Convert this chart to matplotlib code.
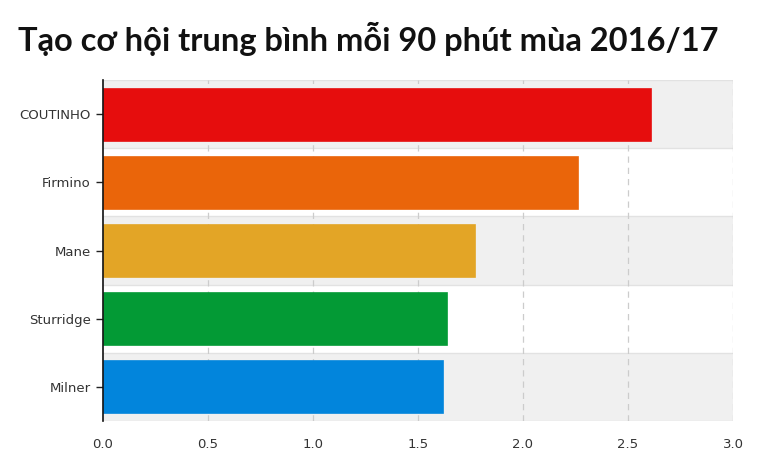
import matplotlib
matplotlib.use("Agg")
import matplotlib.pyplot as plt

title = "Tạo cơ hội trung bình mỗi 90 phút mùa 2016/17"
players = ["COUTINHO", "Firmino", "Mane", "Sturridge", "Milner"]
values = [2.61, 2.26, 1.77, 1.64, 1.62]
colors = ["#e60d0d", "#ea650a", "#e3a526", "#039a35", "#0285dc"]
xticks = [0.0, 0.5, 1.0, 1.5, 2.0, 2.5, 3.0]

W, H = 758, 462
fig = plt.figure(figsize=(W / 100, H / 100), dpi=100)
ax = fig.add_axes([103 / W, 1 - 421 / H, (733 - 103) / W, (421 - 80) / H])

ypos = list(range(len(players)))
for i in ypos:
    if i % 2 == 0:
        ax.axhspan(i - 0.5, i + 0.5, color="#f0f0f0", zorder=0, lw=0)
    ax.axhline(i + 0.5, color="#e2e2e2", lw=1, zorder=0.5)
ax.axhline(-0.5, color="#e2e2e2", lw=1, zorder=0.5)

for x in xticks[1:]:
    ax.axvline(x, color="#cccccc", lw=0.9, ls=(0, (5, 4)), zorder=1)

ax.barh(ypos, values, height=0.78, color=colors, zorder=2,
        edgecolor=[c + "cc" for c in colors], linewidth=0.6)

ax.set_xlim(0, 3.0)
ax.set_ylim(len(players) - 0.5, -0.5)
ax.set_yticks(ypos)
ax.set_yticklabels(players, fontsize=9.5, color="#333333", family="DejaVu Sans")
ax.set_xticks(xticks)
ax.set_xticklabels([f"{x:.1f}" for x in xticks], fontsize=9.5, color="#333333",
                   family="DejaVu Sans")
ax.tick_params(axis="y", length=5, width=1, color="#222222", pad=4)
ax.tick_params(axis="x", length=0, pad=12)
for s in ["top", "right", "bottom"]:
    ax.spines[s].set_visible(False)
ax.spines["left"].set_color("#111111")
ax.spines["left"].set_linewidth(1.2)
ax.spines["left"].set_zorder(3)

fig.text(18 / W, 1 - 39 / H, title, fontsize=23.5, fontweight="bold",
         family="Lato", va="center", ha="left", color="#111111")

fig.savefig("out.png", dpi=100)
